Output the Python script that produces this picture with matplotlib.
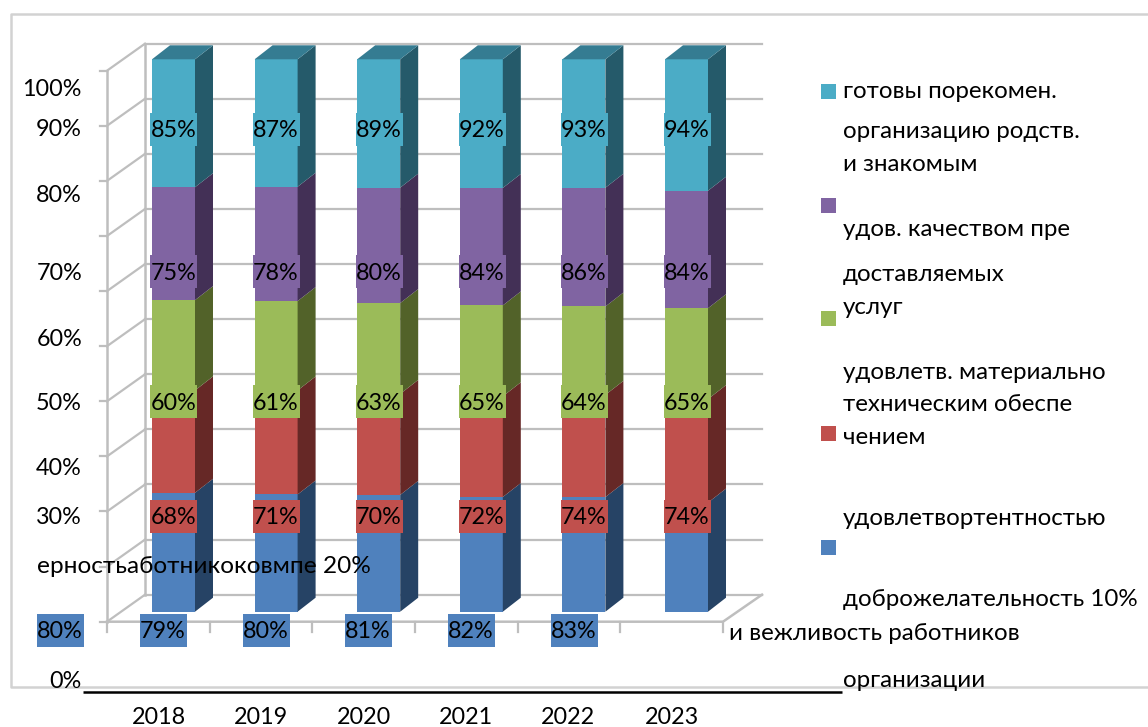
import numpy as np
import matplotlib
matplotlib.use("Agg")
import matplotlib.pyplot as plt
from matplotlib.patches import Polygon, Rectangle

plt.rcParams['font.family'] = ['Lato', 'DejaVu Sans']

years = ['2018', '2019', '2020', '2021', '2022', '2023']
blue = [79, 80, 81, 82, 83, 78]
red = [68, 71, 70, 72, 74, 74]
green = [60, 61, 63, 65, 64, 65]
purple = [75, 78, 80, 84, 86, 84]
teal = [85, 87, 89, 92, 93, 94]

series = [blue, red, green, purple, teal]
front_cols = ['#4F81BD', '#C0504D', '#9BBB59', '#8064A2', '#4BACC6']
side_cols = ['#264365', '#662826', '#526229', '#433056', '#255A6A']
top_col = '#357C92'

W, H = 1148, 727
fs_num = 16.8
fs_txt = 17.4

fig = plt.figure(figsize=(W / 100, H / 100), dpi=100)

# bars axes, stretched over the whole figure
ax = fig.add_axes([0, 0, 1, 1])
ax.set_xlim((0 - 173.5) / 102.6, (W - 173.5) / 102.6)
ax.set_ylim((611.7 - H) / 5.524, 611.7 / 5.524)
ax.axis('off')

# overlay in pixels for text, frame and legend
pa = fig.add_axes([0, 0, 1, 1], facecolor='none')
pa.set_xlim(0, W)
pa.set_ylim(H, 0)
pa.axis('off')

x = np.arange(len(years))
bar_w = 43 / 102.6
dx = 18 / 102.6
dy = 14 / 5.524

# walls and floor
grid_col = '#BEBEBE'
wall_dx, wall_dy = 38 / 102.6, 27 / 5.524
floor = -1.81
span = 99.75
xl, xr = (107 - 173.5) / 102.6, (723 - 173.5) / 102.6
back_r = (762 - 173.5) / 102.6
for t in np.arange(0, 101, 10):
    yy = floor + t / 100 * span
    ax.plot([xl, xl + wall_dx], [yy, yy + wall_dy], color=grid_col, lw=1.6, zorder=1)
    ax.plot([xl + wall_dx, back_r], [yy + wall_dy] * 2, color=grid_col, lw=1.6, zorder=1)
    ax.plot([xl - 7 / 102.6, xl], [yy, yy], color=grid_col, lw=1.6, zorder=1)
ax.plot([xl, xl], [floor, floor + span], color=grid_col, lw=1.8, zorder=1)
ax.plot([xl + wall_dx] * 2, [floor + wall_dy, floor + span + wall_dy], color=grid_col, lw=1.8, zorder=1)
ax.plot([xl, xr, back_r], [floor, floor, floor + wall_dy], color=grid_col, lw=1.8, zorder=1)
for k in range(7):
    xt = xl + k * (xr - xl) / 6
    ax.plot([xt, xt], [floor, floor - 10 / 5.524], color=grid_col, lw=1.6, zorder=1)

# 3d looking stacked bars
totals = np.sum(series, axis=0)
bottom = np.zeros(len(years))
for vals, fc, sc in zip(series, front_cols, side_cols):
    h = np.array(vals) / totals * 100
    ax.bar(x, h, bar_w, bottom=bottom, color=fc, zorder=3)
    for xi, b, hi in zip(x, bottom, h):
        xe = xi + bar_w / 2
        ax.add_patch(Polygon([(xe, b), (xe + dx, b + dy), (xe + dx, b + hi + dy), (xe, b + hi)],
                             closed=True, facecolor=sc, edgecolor='none', zorder=3))
    bottom = bottom + h
for xi in x:
    xa, xe = xi - bar_w / 2, xi + bar_w / 2
    ax.add_patch(Polygon([(xa, 100), (xe, 100), (xe + dx, 100 + dy), (xa + dx, 100 + dy)],
                         closed=True, facecolor=top_col, edgecolor='none', zorder=3))


def tx(px, py, s, ha='left', size=fs_txt):
    # py is the middle of the line, text sits on its baseline
    pa.text(px, py + 8, s, ha=ha, va='baseline', fontsize=size, color='black', zorder=6)


def lab(px, py, s, col):
    pa.add_patch(Rectangle((px - 23.5, py - 16.5), 47, 33, facecolor=col, edgecolor='none', zorder=5))
    tx(px, py, s, ha='center', size=fs_num)


# data labels
label_x = [173.5, 276, 379, 482, 584, 687]
label_y = {1: 516, 2: 401.7, 3: 271.7, 4: 129}
for si, yy in label_y.items():
    for lx, v in zip(label_x, series[si]):
        lab(lx, yy, f'{v}%', front_cols[si])

blue_x = [163, 266, 368, 471, 574]
for lx, v in zip(blue_x, blue[:5]):
    lab(lx, 630, f'{v}%', front_cols[0])
lab(60, 630, '80%', front_cols[0])

# value axis labels as they sit in the source
axis_labels = ['100%', '90%', '80%', '70%', '60%', '50%', '40%', '30%', '0%']
axis_y = [88, 128, 194, 271.7, 338, 402, 467, 516, 680]
for s, yy in zip(axis_labels, axis_y):
    tx(82, yy, s, ha='right', size=fs_num)
tx(37, 565, 'ерностьаботникоковмпе 20%', size=17.6)

year_x = [158.7, 261, 363.5, 466, 568, 671.7]
for s, xx in zip(years, year_x):
    tx(xx, 716.5, s, ha='center', size=fs_num)

# legend
legend_y = [547, 433, 318, 205, 91]
for yy, col in zip(legend_y, front_cols):
    pa.add_patch(Rectangle((820.5, yy - 7.5), 15.5, 15, facecolor=col, edgecolor='none', zorder=5))

legend_lines = ['готовы порекомен.', 'организацию родств.', 'и знакомым', 'удов. качеством пре',
                'доставляемых', 'услуг', 'удовлетв. материально', 'техническим обеспе', 'чением',
                'удовлетвортентностью', 'доброжелательность 10%', 'организации']
legend_line_y = [90, 130, 163, 228, 273, 306, 371, 403, 436, 517, 598, 679]
for s, yy in zip(legend_lines, legend_line_y):
    tx(843, yy, s)
tx(729, 632, 'и вежливость работников')

# chart frame and the black rule under it
frame = '#D2D2D2'
pa.plot([W, 10.5, 10.5, W], [13.5, 13.5, 686.5, 686.5], color=frame, lw=1.8, zorder=2)
pa.plot([83, 842], [692, 692], color='black', lw=1.8, zorder=4, solid_capstyle='butt')

fig.savefig('out.png', dpi=100)
